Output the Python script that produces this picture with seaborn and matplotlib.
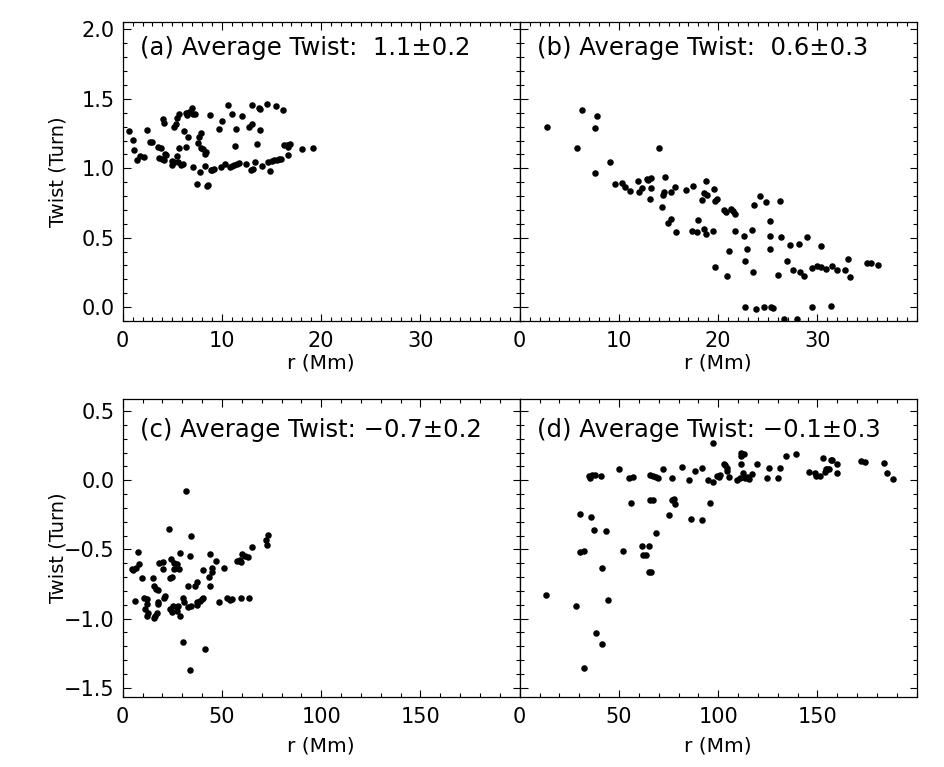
import matplotlib
matplotlib.use('Agg')
import matplotlib.pyplot as plt
import pandas as pd
import seaborn as sns
from matplotlib.ticker import MultipleLocator, FixedLocator

# panel (a)
a_r = [0.64, 1.07, 1.17, 1.41, 1.74, 2.18, 2.48, 2.75, 2.99, 3.59, 3.83, 3.69, 3.93, 4.03, 4.20,
       4.26, 4.33, 4.20, 4.94, 5.01, 5.20, 5.20, 5.37, 5.44, 5.68, 5.51, 5.61, 5.68, 5.84, 6.11,
       6.21, 6.35, 6.55, 6.35, 6.51, 6.68, 7.02, 7.12, 7.29, 7.06, 7.56, 7.69, 7.86, 7.79, 7.89,
       8.13, 8.30, 8.36, 7.52, 8.46, 8.63, 8.30, 8.80, 8.90, 9.03, 9.20, 9.71, 10.04, 9.91, 10.31,
       10.65, 11.05, 10.82, 11.05, 11.25, 11.49, 11.72, 11.39, 11.32, 11.99, 12.43, 12.73, 13.00,
       12.93, 13.10, 13.07, 13.34, 13.50, 13.74, 13.84, 13.84, 14.08, 14.51, 14.68, 14.85, 15.02,
       15.28, 15.52, 15.76, 15.92, 15.42, 16.13, 16.29, 16.53, 16.70, 16.86, 16.70, 18.04, 19.22]
a_tw = [1.268, 1.206, 1.129, 1.062, 1.088, 1.081, 1.273, 1.189, 1.189, 1.153, 1.148, 1.076, 1.064,
        1.357, 1.326, 1.105, 1.093, 1.062, 1.052, 1.021, 1.045, 1.297, 1.321, 1.364, 1.388, 1.088,
        1.045, 1.148, 1.021, 1.033, 1.268, 1.153, 1.225, 1.398, 1.386, 1.403, 1.434, 1.393, 1.393,
        1.009, 1.182, 1.225, 1.254, 0.973, 1.148, 1.141, 1.105, 1.117, 0.889, 0.872, 0.879, 1.014,
        1.381, 0.990, 0.990, 0.992, 1.283, 1.340, 1.009, 1.028, 1.453, 1.388, 1.009, 1.016, 1.021,
        1.033, 1.038, 1.285, 1.160, 1.378, 1.033, 1.297, 1.316, 0.990, 0.992, 1.453, 1.045, 1.177,
        1.436, 1.424, 1.273, 1.014, 1.460, 1.045, 0.978, 1.052, 1.057, 1.062, 1.064, 1.064, 1.446,
        1.417, 1.170, 1.165, 1.153, 1.172, 1.098, 1.141, 1.146]

# panel (b)
b_r = [2.76, 5.75, 6.29, 7.63, 7.83, 7.63, 9.11, 9.58, 10.32, 10.59, 11.13, 11.90, 12.00, 12.34,
       12.84, 12.94, 13.18, 13.21, 13.11, 14.02, 14.35, 14.42, 14.55, 14.62, 14.96, 15.26, 15.26,
       15.63, 15.70, 16.80, 17.38, 17.44, 17.88, 17.98,
       18.38, 18.55, 18.79, 18.89, 19.56, 19.63, 19.90, 20.57, 20.74, 21.24, 21.51, 21.74, 18.55,
       18.72, 19.46, 19.63, 20.84, 21.11, 21.74, 22.58, 22.65, 22.68, 22.85, 23.42, 23.53, 23.59,
       23.76, 24.16, 24.60, 24.80, 25.17, 25.20, 25.17, 25.34, 25.54, 26.01, 26.18, 26.35, 26.62,
       26.88, 27.26, 27.49, 27.89, 28.13, 28.20, 28.60, 28.90, 29.40, 29.47, 29.98, 30.38, 30.38,
       30.82, 31.32, 31.49, 31.99, 32.77, 33.07, 33.24, 35.02, 35.42, 36.09]
b_tw = [1.299, 1.143, 1.417, 1.290, 1.376, 0.963, 1.047, 0.886, 0.891, 0.867, 0.838, 0.908, 0.826,
        0.860, 0.922, 0.913, 0.930, 0.860, 0.781, 1.143, 0.718, 0.807, 0.831, 0.939, 0.608, 0.637,
        0.829, 0.862, 0.538, 0.843, 0.545, 0.874, 0.541, 0.625,
        0.769, 0.822, 0.906, 0.807, 0.848, 0.764, 0.776, 0.701, 0.685, 0.709, 0.692, 0.673, 0.562,
        0.529, 0.545, 0.286, 0.221, 0.401, 0.545, 0.509, 0.000, 0.329, 0.418, 0.553, 0.250, 0.735,
        -0.012, 0.800, 0.000, 0.757, 0.512, 0.622, 0.418, 0.000, -0.009, 0.233, 0.766, 0.505,
        -0.084, 0.334, 0.447, 0.269, -0.084, 0.452, 0.250, 0.221, 0.505, 0.000, 0.279, 0.296,
        0.442, 0.288, 0.276, 0.005, 0.293, 0.269, 0.269, 0.348, 0.216, 0.320, 0.320, 0.305]

# panel (c)
c_r = [31.75, 23.35, 34.44, 7.55, 8.22, 4.52, 5.36, 6.54, 9.56, 18.47, 20.49, 20.49, 24.36, 26.04,
       27.21, 26.04, 28.56, 23.85, 25.03, 28.90, 33.94, 15.45, 15.95, 16.62, 17.97, 6.20, 10.91,
       12.09, 12.42, 11.25, 12.09, 12.59, 15.78, 16.29, 17.46, 17.97, 17.63, 20.99, 21.33, 23.85,
       24.69, 25.53, 27.21, 27.55, 28.90, 28.05, 30.57, 31.08, 33.10, 32.76, 34.44, 36.46, 37.30,
       37.30, 37.30, 38.98, 39.82, 40.66, 40.66, 43.69, 44.02, 44.02, 44.87, 45.20, 47.05, 48.73,
       51.08, 52.43, 54.11, 55.29, 57.47, 59.15, 59.66, 60.33, 61.67, 63.35, 59.66, 63.69, 65.04,
       72.10, 72.60, 73.11, 30.57, 41.50, 33.94]
c_tw = [-0.077, -0.354, -0.402, -0.518, -0.602, -0.643, -0.650, -0.631, -0.710, -0.595, -0.588,
        -0.643, -0.571, -0.595, -0.602, -0.643, -0.643, -0.710, -0.703, -0.523, -0.547, -0.710,
        -0.768, -0.788, -0.795, -0.872, -0.848, -0.860, -0.896, -0.932, -0.980, -0.963, -0.999,
        -0.980, -0.961, -0.896, -0.877, -0.848, -0.836, -0.932, -0.956, -0.913, -0.920, -0.949,
        -0.980, -0.913, -0.855, -0.884, -0.768, -0.915, -0.908, -0.768, -0.739, -0.884, -0.903,
        -0.872, -0.860, -0.848, -0.648, -0.703, -0.768, -0.530, -0.638, -0.667, -0.583, -0.877,
        -0.638, -0.848, -0.865, -0.860, -0.583, -0.576, -0.588, -0.530, -0.547, -0.552, -0.855,
        -0.848, -0.479, -0.431, -0.470, -0.395, -1.168, -1.221, -1.373]

# panel (d)
d_r = [35.15, 35.65, 36.49, 37.84, 41.03, 50.11, 54.98, 57.17, 55.82, 30.27, 36.16, 37.33, 43.22,
       30.61, 32.63, 41.20, 13.30, 28.43, 44.39, 38.51, 41.54, 32.63, 52.13, 61.37, 65.07, 62.04,
       63.73, 68.77, 65.07, 66.08, 65.41, 67.09, 68.43, 69.78, 65.57, 67.09, 72.13, 76.67, 76.84,
       77.67, 78.18, 75.15, 81.54, 85.24, 86.42, 88.26,
       97.51, 91.97, 94.82, 97.34, 99.19, 100.37, 100.87, 102.89, 103.23, 104.24, 104.57, 105.41,
       109.28, 110.96, 111.63, 111.63, 112.98, 111.30, 112.64, 113.31, 114.66, 115.50, 116.84,
       119.36, 124.41, 125.58, 130.29, 131.13, 134.15, 139.03, 145.92, 148.61, 149.46, 151.30,
       152.81, 153.65, 154.16, 155.00, 155.84, 156.68, 157.52, 159.71, 160.04, 172.15, 173.83,
       183.58, 185.26, 188.29, 95.66, 91.97]
d_tw = [0.031, 0.014, 0.036, 0.039, 0.031, 0.079, 0.014, 0.027, -0.164, -0.246, -0.263, -0.361,
        -0.366, -0.518, -0.511, -0.631, -0.831, -0.908, -0.869, -1.108, -1.187, -1.356, -0.511,
        -0.474, -0.474, -0.537, -0.544, -0.383, -0.667, -0.662, 0.036, 0.031, 0.024, 0.017,
        -0.145, -0.142, 0.084, 0.019, -0.142, -0.132, -0.173, -0.253, 0.096, 0.005, -0.282, 0.067,
        0.272, 0.092, 0.000, -0.012, 0.031, 0.024, 0.036, 0.120, 0.108, 0.092, 0.067, 0.024,
        0.000, 0.019, 0.195, 0.176, 0.193, 0.116, 0.055, 0.019, 0.027, 0.012, 0.043, 0.120,
        0.019, 0.092, 0.019, 0.092, 0.176, 0.188, 0.060, 0.055, 0.031, 0.031, 0.159, 0.060,
        0.079, 0.079, 0.084, 0.147, 0.145, 0.120, 0.051, 0.137, 0.132, 0.128, 0.051, 0.012,
        -0.161, -0.287]

labels = ['(a) Average Twist:  1.1\u00b10.2', '(b) Average Twist:  0.6\u00b10.3',
          '(c) Average Twist: \u22120.7\u00b10.2', '(d) Average Twist: \u22120.1\u00b10.3']

sns.set_style('ticks')
plt.rcParams['font.family'] = ['DejaVu Sans']
plt.rcParams['text.color'] = 'black'
plt.rcParams['axes.labelcolor'] = 'black'

fig = plt.figure(figsize=(9.44, 7.67), dpi=100)
W = 397 / 944
H = 298.5 / 767
ax_a = fig.add_axes([0.130, 0.5815, W, H])
ax_b = fig.add_axes([0.130 + W, 0.5815, W, H])
ax_c = fig.add_axes([0.130, 0.0909, W, H])
ax_d = fig.add_axes([0.130 + W, 0.0909, W, H])

panels = [(ax_a, a_r, a_tw), (ax_b, b_r, b_tw), (ax_c, c_r, c_tw), (ax_d, d_r, d_tw)]
for i, (ax, r, tw) in enumerate(panels):
    df = pd.DataFrame({'r': r, 'tw': tw})
    sns.scatterplot(data=df, x='r', y='tw', ax=ax, color='black', s=22,
                    linewidth=0, legend=False)
    top = i < 2
    if top:
        ax.set_xlim(0, 40)
        ax.set_ylim(-0.1, 2.05)
        ax.xaxis.set_major_locator(FixedLocator([0, 10, 20, 30]))
        ax.xaxis.set_minor_locator(MultipleLocator(1))
    else:
        ax.set_xlim(0, 200)
        ax.set_ylim(-1.57, 0.59)
        ax.xaxis.set_major_locator(FixedLocator([0, 50, 100, 150]))
        ax.xaxis.set_minor_locator(MultipleLocator(10))
    ax.yaxis.set_major_locator(MultipleLocator(0.5))
    ax.yaxis.set_minor_locator(MultipleLocator(0.1))
    ax.tick_params(which='both', direction='in', top=True, right=True,
                   labelsize=15, colors='black', width=0.8)
    ax.tick_params(which='major', length=5.4)
    ax.tick_params(which='minor', length=2.7)
    ax.tick_params(axis='x', which='major', pad=7)
    ax.tick_params(axis='y', which='major', pad=6)
    for sp in ax.spines.values():
        sp.set_linewidth(0.9)
        sp.set_color('black')
    ax.set_xlabel('r (Mm)', fontsize=14.5)
    ax.xaxis.set_label_coords(0.5, -0.108 if top else -0.133)
    if i % 2 == 0:
        ax.set_ylabel('Twist (Turn)', fontsize=14)
        ax.yaxis.set_label_coords(-0.14, 0.5)
    else:
        ax.set_ylabel('')
        ax.tick_params(labelleft=False)
    ax.text(0.044, 0.914 if top else 0.897, labels[i], transform=ax.transAxes,
            fontsize=17.5, va='center', ha='left')

fig.savefig('out.png', dpi=100)
